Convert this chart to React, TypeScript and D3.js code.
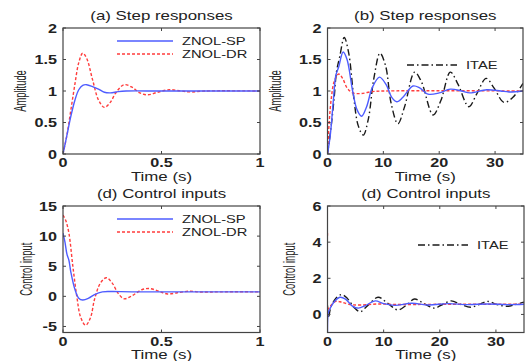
import React from "react";
import * as d3 from "d3";

// ---- data ----
// (a) step responses, t in s
const aSP: [number, number][] = [
  [0, 0], [0.02, 0.3], [0.04, 0.6], [0.06, 0.85], [0.08, 1.02], [0.1, 1.09], [0.12, 1.1],
  [0.15, 1.07], [0.18, 1.03], [0.21, 0.98], [0.24, 0.97], [0.28, 0.99], [0.32, 1.0], [0.5, 1.0], [1, 1.0],
];
const aDR: [number, number][] = [
  [0, 0], [0.02, 0.3], [0.04, 0.7], [0.06, 1.1], [0.08, 1.45], [0.1, 1.6], [0.12, 1.52],
  [0.15, 1.18], [0.18, 0.86], [0.21, 0.74], [0.24, 0.82], [0.27, 0.98], [0.31, 1.1], [0.35, 1.06],
  [0.39, 0.97], [0.43, 0.94], [0.48, 0.98], [0.54, 1.02], [0.6, 1.0], [0.65, 0.985], [0.72, 1.0], [1, 1.0],
];

// (b) step responses, t in s
const bSP: [number, number][] = [
  [0, 0], [0.5, 0.3], [1, 0.8], [1.5, 1.25], [2, 1.38], [2.8, 1.62], [3.5, 1.5], [4.5, 1.0],
  [5.3, 0.7], [6.1, 0.6], [7, 0.75], [8, 1.05], [9.3, 1.22], [10.5, 1.1], [11.5, 0.9], [12.4, 0.83],
  [13.5, 0.9], [15.3, 1.08], [16.5, 1.05], [18, 0.95], [20, 0.97], [22, 1.03], [24, 1.0],
  [25.5, 0.97], [28.5, 1.02], [31, 1.0], [32.5, 0.985], [35, 1.0],
];
const bDR: [number, number][] = [
  [0, 0], [0.3, 0.5], [0.7, 0.9], [1.2, 1.15], [2, 1.27], [2.7, 1.2], [3.5, 1.05], [4.5, 0.97],
  [6, 0.96], [8, 0.99], [10, 1.0], [35, 1.0],
];
const bITAE: [number, number][] = [
  [0, 0], [0.6, 0.4], [1.2, 0.9], [1.6, 1.3], [2.2, 1.55], [3.0, 1.85], [3.8, 1.6], [4.7, 0.9],
  [5.5, 0.45], [6.4, 0.3], [7.3, 0.55], [8.3, 1.2], [9.4, 1.6], [10.4, 1.4], [11.4, 0.8],
  [12.6, 0.48], [13.8, 0.75], [15.6, 1.3], [16.8, 1.15], [18.9, 0.62], [20.3, 0.85], [22, 1.3],
  [23.4, 1.1], [25.3, 0.75], [26.7, 0.95], [28.4, 1.2], [29.8, 1.05], [31.6, 0.82], [33.2, 0.9], [35, 1.12],
];

// (d) control inputs, left
const cSP: [number, number][] = [
  [0, 10.5], [0.01, 9], [0.02, 7], [0.03, 6], [0.04, 4], [0.06, 1.2], [0.08, -0.3], [0.1, -0.6],
  [0.13, -0.3], [0.16, 0.3], [0.2, 0.75], [0.25, 0.8], [0.35, 0.75], [1, 0.75],
];
const cDR: [number, number][] = [
  [0, 13.5], [0.015, 12.5], [0.03, 10.5], [0.05, 5], [0.07, 0], [0.09, -3.5], [0.115, -4.8],
  [0.14, -3.5], [0.16, -0.5], [0.19, 2.2], [0.22, 3.1], [0.25, 2.2], [0.28, 0.5], [0.31, -0.4],
  [0.35, 0.1], [0.4, 1.1], [0.44, 1.3], [0.49, 0.8], [0.53, 0.4], [0.58, 0.6], [0.64, 0.85],
  [0.7, 0.72], [0.8, 0.75], [1, 0.75],
];

// (d) control inputs, right
const dSP: [number, number][] = [
  [0, -1], [0.15, 0.1], [0.5, 0.35], [1.2, 0.7], [2.2, 0.95], [3.2, 0.85], [4.5, 0.45],
  [5.5, 0.35], [6.8, 0.5], [8.5, 0.75], [10, 0.6], [12, 0.5], [15, 0.62], [18, 0.52],
  [21.5, 0.6], [25, 0.54], [28.5, 0.58], [32, 0.54], [35, 0.56],
];
const dDR: [number, number][] = [
  [0, 4.5], [0.08, 0.3], [0.6, 0.5], [1.5, 0.72], [2.5, 0.68], [4, 0.55], [6, 0.52],
  [9, 0.58], [12, 0.55], [20, 0.56], [35, 0.56],
];
const dITAE: [number, number][] = [
  [0, 0.5], [0.15, -0.2], [0.6, 0.4], [1.5, 0.9], [2.5, 1.1], [3.5, 0.9], [4.7, 0.4],
  [5.8, 0.15], [7.2, 0.5], [9, 0.95], [10.6, 0.65], [12.5, 0.25], [14, 0.5], [15.5, 0.85],
  [17.2, 0.6], [19, 0.35], [20.5, 0.55], [22, 0.75], [23.8, 0.55], [25.5, 0.4], [27, 0.55],
  [28.5, 0.72], [30.2, 0.55], [32, 0.45], [33.5, 0.55], [35, 0.68],
];

const unitTicks = [0, 0.5, 1];
const longTicks = [0, 10, 20, 30];
const ampTicks = [0, 0.5, 1, 1.5, 2];
const ctrlTicksL = [-5, 0, 5, 10, 15];
const ctrlTicksR = [0, 2, 4, 6];

const BLUE = "#4e5cff";
const RED = "#ff3c3c";
const BLACK = "#1a1a1a";
const FONT = "'Liberation Sans', Arial, sans-serif";

type Series = { data: [number, number][]; color: string; dash?: string };

// text stretched sideways like the scanned figure
const Txt = ({ x, y, anchor = "middle", sx = 1.35, sy = 1, rot = false, size = 12, weight = "normal", children }: any) => (
  <text
    transform={`translate(${x},${y}) scale(${sx},${sy})${rot ? " rotate(-90)" : ""}`}
    textAnchor={anchor}
    fontFamily={FONT}
    fontSize={size}
    fontWeight={weight}
    fill="#222"
  >
    {children}
  </text>
);

const Panel = ({ id, box, xDom, yDom, xTicks, yTicks, title, ylabel, ylabelX, series, legend }: any) => {
  const [x0, x1, y0, y1] = box;
  const x = d3.scaleLinear().domain(xDom).range([x0, x1]);
  const y = d3.scaleLinear().domain(yDom).range([y1, y0]);
  const line = d3
    .line<[number, number]>()
    .x((d) => x(d[0]))
    .y((d) => y(d[1]))
    .curve(d3.curveCatmullRom.alpha(0.5));
  const tk = 3;
  return (
    <g>
      <clipPath id={id}>
        <rect x={x0} y={y0} width={x1 - x0} height={y1 - y0} />
      </clipPath>
      <rect x={x0} y={y0} width={x1 - x0} height={y1 - y0} fill="#fff" />
      <g clipPath={`url(#${id})`}>
        {series.map((s: Series, i: number) => (
          <path key={i} d={line(s.data) || ""} fill="none" stroke={s.color} strokeWidth={1.4} strokeDasharray={s.dash} />
        ))}
      </g>
      {xTicks.map((t: number) => (
        <g key={"x" + t}>
          <line x1={x(t)} x2={x(t)} y1={y1} y2={y1 - tk} stroke="#444" />
          <line x1={x(t)} x2={x(t)} y1={y0} y2={y0 + tk} stroke="#444" />
          <Txt x={x(t)} y={y1 + 13} size={12} weight="bold">{String(t)}</Txt>
        </g>
      ))}
      {yTicks.map((t: number) => (
        <g key={"y" + t}>
          <line x1={x0} x2={x0 + tk} y1={y(t)} y2={y(t)} stroke="#444" />
          <line x1={x1} x2={x1 - tk} y1={y(t)} y2={y(t)} stroke="#444" />
          <Txt x={x0 - 6} y={y(t) + 4.5} anchor="end" size={12} weight="bold">{String(t)}</Txt>
        </g>
      ))}
      <rect x={x0} y={y0} width={x1 - x0} height={y1 - y0} fill="none" stroke="#444" strokeWidth={1.2} />
      <Txt x={(x0 + x1) / 2} y={y0 - 8} size={12.5}>{title}</Txt>
      <Txt x={(x0 + x1) / 2} y={y1 + 26.5} size={12.5}>Time (s)</Txt>
      <Txt x={ylabelX} y={(y0 + y1) / 2} rot sx={1.3} sy={0.72} size={13}>{ylabel}</Txt>
      {legend.map((l: any, i: number) => (
        <g key={"l" + i}>
          <line x1={l.x1} x2={l.x2} y1={l.y} y2={l.y} stroke={l.color} strokeWidth={1.4} strokeDasharray={l.dash} />
          <Txt x={l.x2 + 9} y={l.y + 3.8} anchor="start" size={10.5} sx={1.4}>{l.label}</Txt>
        </g>
      ))}
    </g>
  );
};

export default function App() {
  const DASH = "3,2";
  const DASHDOT = "7,3,1.5,3";
  return (
    <svg width={526} height={361} style={{ display: "block", position: "absolute", left: 0, top: 0 }}>
      <rect width={526} height={361} fill="#fff" />
      <Panel
        id="ca"
        box={[63, 260, 28, 154]}
        xDom={[0, 1]}
        yDom={[0, 2]}
        xTicks={unitTicks}
        yTicks={ampTicks}
        title="(a) Step responses"
        ylabel="Amplitude"
        ylabelX={26}
        series={[
          { data: aDR, color: RED, dash: DASH },
          { data: aSP, color: BLUE },
        ]}
        legend={[
          { x1: 117, x2: 173, y: 41, color: BLUE, label: "ZNOL-SP" },
          { x1: 117, x2: 173, y: 54, color: RED, dash: DASH, label: "ZNOL-DR" },
        ]}
      />
      <Panel
        id="cb"
        box={[327.5, 523, 28, 154]}
        xDom={[0, 35]}
        yDom={[0, 2]}
        xTicks={longTicks}
        yTicks={ampTicks}
        title="(b) Step responses"
        ylabel="Amplitude"
        ylabelX={281}
        series={[
          { data: bITAE, color: BLACK, dash: DASHDOT },
          { data: bDR, color: RED, dash: DASH },
          { data: bSP, color: BLUE },
        ]}
        legend={[{ x1: 407, x2: 457, y: 65, color: BLACK, dash: DASHDOT, label: "ITAE" }]}
      />
      <Panel
        id="cc"
        box={[63, 260, 206, 332.5]}
        xDom={[0, 1]}
        yDom={[-6, 15]}
        xTicks={unitTicks}
        yTicks={ctrlTicksL}
        title="(d) Control inputs"
        ylabel="Control input"
        ylabelX={32}
        series={[
          { data: cDR, color: RED, dash: DASH },
          { data: cSP, color: BLUE },
        ]}
        legend={[
          { x1: 117, x2: 173, y: 219, color: BLUE, label: "ZNOL-SP" },
          { x1: 117, x2: 173, y: 232, color: RED, dash: DASH, label: "ZNOL-DR" },
        ]}
      />
      <Panel
        id="cd"
        box={[327.5, 524, 206, 332.5]}
        xDom={[0, 35]}
        yDom={[-1, 6]}
        xTicks={longTicks}
        yTicks={ctrlTicksR}
        title="(d) Control inputs"
        ylabel="Control input"
        ylabelX={295}
        series={[
          { data: dITAE, color: BLACK, dash: DASHDOT },
          { data: dDR, color: RED, dash: DASH },
          { data: dSP, color: BLUE },
        ]}
        legend={[{ x1: 418, x2: 468, y: 245, color: BLACK, dash: DASHDOT, label: "ITAE" }]}
      />
    </svg>
  );
}
